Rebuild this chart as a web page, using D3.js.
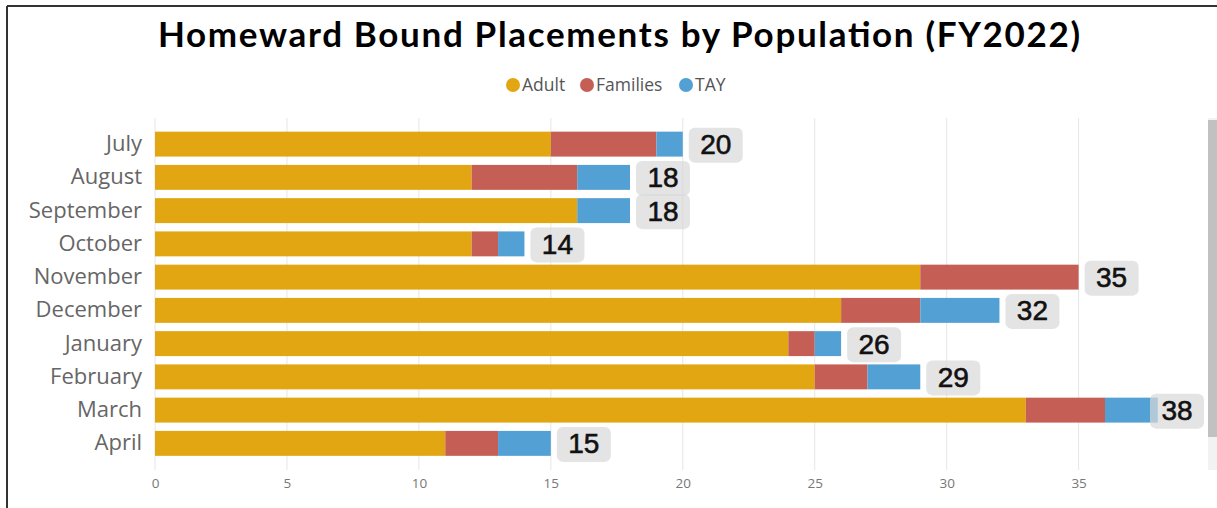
<!DOCTYPE html>
<html>
<head>
<meta charset="utf-8">
<script src="https://cdn.jsdelivr.net/npm/d3@7"></script>
<style>
  html, body { margin: 0; padding: 0; background: #fff; }
  svg { display: block; }
</style>
</head>
<body>
<svg id="chart" width="1217" height="508"></svg>
<script>
const months = ["July","August","September","October","November","December","January","February","March","April"];
const adult = [15, 12, 16, 12, 29, 26, 24, 25, 33, 11];
const families = [4, 4, 0, 1, 6, 3, 1, 2, 3, 2];
const tay = [1, 2, 2, 1, 0, 3, 1, 2, 2, 2];
const seriesNames = ["Adult", "Families", "TAY"];
const seriesColors = ["#E2A612", "#C55F55", "#52A0D4"];
const xTicks = [0, 5, 10, 15, 20, 25, 30, 35];

const svg = d3.select("#chart");
const W = 1217, H = 508;

// frame
svg.append("line").attr("x1", 7).attr("x2", W).attr("y1", 6).attr("y2", 6)
  .attr("stroke", "#333").attr("stroke-width", 2);
svg.append("line").attr("x1", 7).attr("x2", 7).attr("y1", 6).attr("y2", H)
  .attr("stroke", "#333").attr("stroke-width", 2);

// title
svg.append("text")
  .attr("x", 619).attr("y", 47)
  .attr("text-anchor", "middle")
  .attr("font-family", "Lato, 'Open Sans', sans-serif")
  .attr("font-weight", 700)
  .attr("font-size", 35)
  .attr("textLength", 922)
  .attr("lengthAdjust", "spacing")
  .attr("fill", "#000")
  .text("Homeward Bound Placements by Population (FY2022)");

// legend
const legendX = [513, 587, 686];
const lg = svg.append("g");
seriesNames.forEach((n, i) => {
  lg.append("circle").attr("cx", legendX[i]).attr("cy", 85).attr("r", 7).attr("fill", seriesColors[i]);
  lg.append("text").attr("x", legendX[i] + 9).attr("y", 91)
    .attr("font-family", "'Open Sans', sans-serif").attr("font-size", 17.5)
    .attr("fill", "#555").text(n);
});

const data = months.map((m, i) => ({ month: m, Adult: adult[i], Families: families[i], TAY: tay[i] }));
const stack = d3.stack().keys(seriesNames);
const stacked = stack(data);

const x = d3.scaleLinear().domain([0, 39.6]).range([155, 1200]);
const y = d3.scaleBand().domain(months).range([127.5, 460]).paddingInner(0.25).paddingOuter(0.125);

// grid
svg.append("g").selectAll("line").data(xTicks).join("line")
  .attr("x1", d => x(d)).attr("x2", d => x(d))
  .attr("y1", 118).attr("y2", 470)
  .attr("stroke", "#e6e6e6").attr("stroke-width", 1);

// x axis labels
const xAxis = d3.axisBottom(x).tickValues(xTicks).tickSize(0).tickPadding(0);
const xg = svg.append("g").attr("transform", "translate(0,478)").call(xAxis);
xg.select(".domain").remove();
xg.selectAll("text").attr("font-family", "'Open Sans', sans-serif").attr("font-size", 13.5).attr("fill", "#777");

// y axis labels
const yAxis = d3.axisLeft(y).tickSize(0).tickPadding(0);
const yg = svg.append("g").attr("transform", "translate(142,0)").call(yAxis);
yg.select(".domain").remove();
yg.selectAll("text").attr("font-family", "'Open Sans', sans-serif").attr("font-size", 22).attr("fill", "#666");

// bars
svg.append("g").selectAll("g").data(stacked).join("g")
  .attr("fill", (d, i) => seriesColors[i])
  .selectAll("rect").data(d => d).join("rect")
  .attr("x", d => x(d[0]))
  .attr("width", d => x(d[1]) - x(d[0]))
  .attr("y", d => y(d.data.month))
  .attr("height", y.bandwidth());

// total labels
const boxW = 54, boxH = 35;
const tg = svg.append("g");
data.forEach(d => {
  const tot = d.Adult + d.Families + d.TAY;
  const bx = Math.min(x(tot) + 6, 1204 - boxW);
  const cy = y(d.month) + y.bandwidth() / 2;
  tg.append("rect").attr("x", bx).attr("y", cy - boxH / 2 + 1).attr("width", boxW).attr("height", boxH)
    .attr("rx", 6).attr("fill", "#d8d8d8").attr("fill-opacity", 0.7);
  tg.append("text").attr("x", bx + boxW / 2).attr("y", cy + 10)
    .attr("text-anchor", "middle")
    .attr("font-family", "'Liberation Sans Narrow', 'Liberation Sans', sans-serif")
    .attr("font-size", 28).attr("fill", "#111")
    .attr("stroke", "#111").attr("stroke-width", 0.6)
    .text(tot);
});

// scrollbar
svg.append("rect").attr("x", 1208).attr("y", 118).attr("width", 9).attr("height", 352).attr("fill", "#f2f2f2");
svg.append("rect").attr("x", 1208).attr("y", 120).attr("width", 9).attr("height", 317).attr("fill", "#c1c1c1");
</script>
</body>
</html>
